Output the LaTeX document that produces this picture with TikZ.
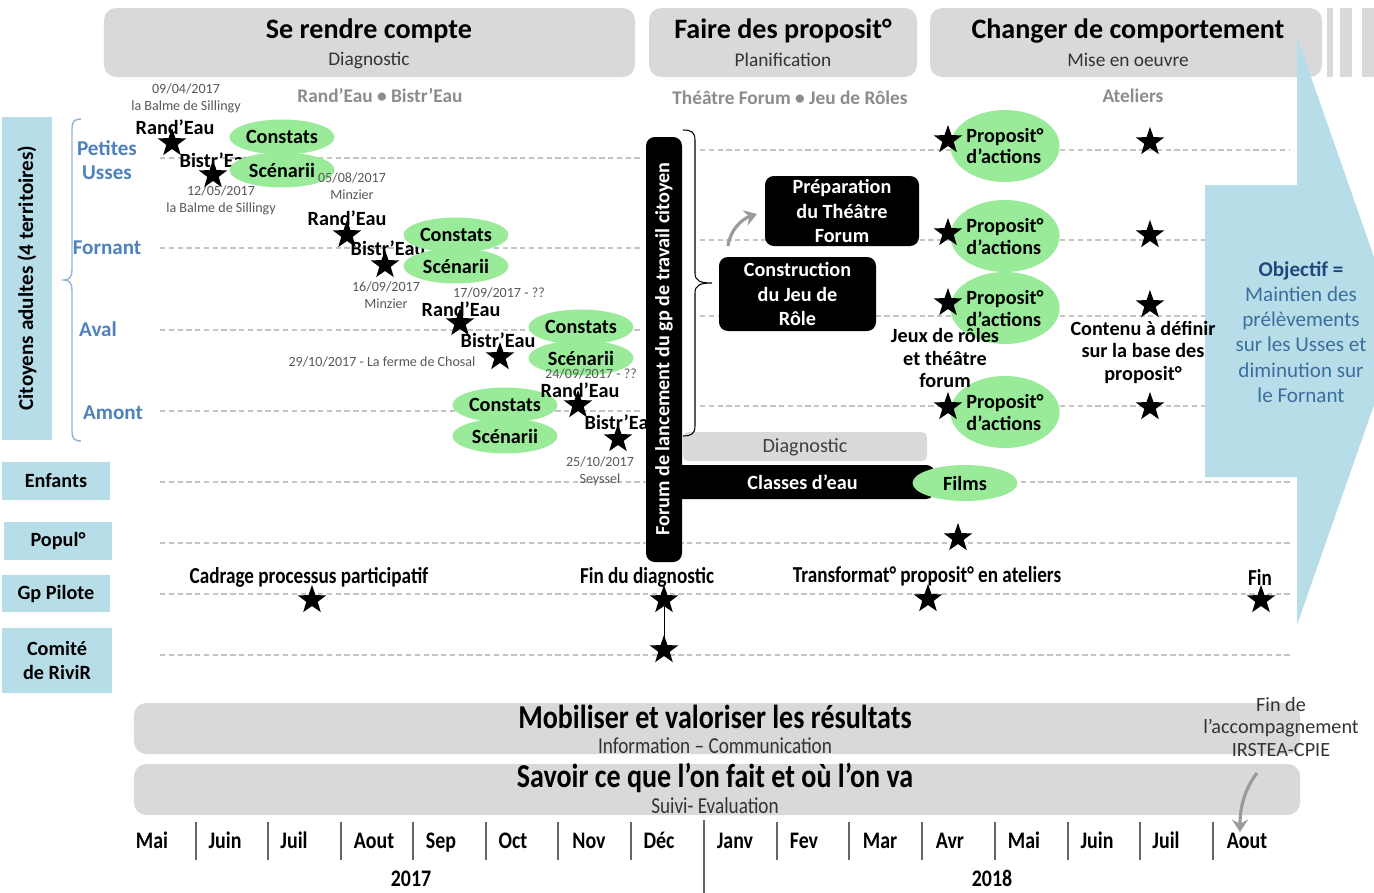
\documentclass[tikz,border=0pt]{standalone}
\usepackage{fontspec}
\setmainfont{Carlito}
\newfontfamily\condf[FakeStretch=0.84]{Carlito}
\usetikzlibrary{shapes.geometric,arrows.meta}
\definecolor{hdrgrey}{HTML}{D9D9D9}
\definecolor{lblue}{HTML}{B7DEE8}
\definecolor{lgreen}{HTML}{99EB99}
\definecolor{tblue}{HTML}{4F81BD}
\definecolor{sgrey}{HTML}{8C8C8C}
\definecolor{dgrey}{HTML}{595959}
\definecolor{rowgrey}{HTML}{C4C4C4}
\definecolor{objblue}{HTML}{1F497D}
\definecolor{objtxt}{HTML}{3B6E9E}
\definecolor{arrgrey}{HTML}{9A9A9A}
\definecolor{bracec}{HTML}{95B3D7}
\newcommand\ft[2]{\fontsize{#1pt}{#2pt}\selectfont}
\newcommand\mkbox[7]{%
  \pgfmathsetmacro\mbcx{(#3+#5)/2}%
  \pgfmathsetmacro\mbcy{(#4+#6)/2}%
  \pgfmathsetmacro\mbw{(#5-#3)*0.02}%
  \pgfmathsetmacro\mbh{(#6-#4)*0.02}%
  \node[#2, minimum width=\mbw cm, minimum height=\mbh cm] (#1) at (\mbcx,\mbcy) {#7};}
\begin{document}
\begin{tikzpicture}[x=0.02cm,y=-0.02cm,
  hdr/.style={fill=hdrgrey, rounded corners=7pt, inner sep=0},
  lbl/.style={fill=lblue, inner sep=0, font=\bfseries\ft{11.5}{14}, align=center},
  stari/.style={star, star points=5, star point ratio=2.5, fill=black, minimum size=0.6cm, inner sep=0},
  ell/.style={ellipse, fill=lgreen, minimum width=2.1cm, minimum height=0.7cm, inner sep=0, font=\bfseries\ft{11.5}{13}},
  pell/.style={ellipse, fill=lgreen, minimum width=2.12cm, minimum height=1.44cm, inner sep=0, font=\bfseries\ft{11.5}{12.5}, align=left},
  date/.style={font=\ft{8}{9.6}, text=dgrey, inner sep=0, align=center},
  who/.style={font=\bfseries\ft{11.5}{13}, inner sep=0},
  blk/.style={fill=black, text=white, rounded corners=5pt, inner sep=0, font=\bfseries\ft{11.5}{14}, align=center},
  row/.style={rowgrey, line width=0.6pt, dash pattern=on 3pt off 2pt},
  ttl/.style={font=\bfseries\ft{16}{18}, inner sep=0},
  sub/.style={font=\ft{11}{13}, text=black!80, inner sep=0},
  sect/.style={font=\bfseries\ft{11}{13}, text=sgrey, inner sep=0},
  terr/.style={font=\bfseries\ft{12}{14}, text=tblue, inner sep=0, align=center},
  mon/.style={font=\condf\bfseries\ft{13.5}{15}, inner sep=0, anchor=base},
  msep/.style={draw=black!60, line width=0.6pt},
  btxt/.style={font=\bfseries\ft{11.5}{12.8}, inner sep=0, align=center},
  gtxt/.style={font=\condf\bfseries\ft{13}{15}, inner sep=0},
  garrow/.style={draw=arrgrey, line width=1.8pt, -{Stealth[length=7pt,width=9pt]}},
]
\useasboundingbox (0,0) rectangle (1374,893);
\fill[white] (0,0) rectangle (1374,893);

% row lines
\foreach \y in {158,248,330,411} \draw[row] (160,\y) -- (640,\y);
\foreach \y in {150,240,316,406} \draw[row] (700,\y) -- (1290,\y);
\foreach \y in {482,543,594,655} \draw[row] (160,\y) -- (1290,\y);

% headers
\mkbox{h1}{hdr}{104}{8}{635}{77}{}
\node[ttl] (h1t) at (369,31) {Se rendre compte};
\node[sub] (h1s) at (369,60) {Diagnostic};
\mkbox{h2}{hdr}{649}{8}{917}{77}{}
\node[ttl] (h2t) at (783,31) {Faire des proposit°};
\node[sub] (h2s) at (783,60) {Planification};
\mkbox{h3}{hdr}{930}{8}{1322}{77}{}
\node[ttl] (h3t) at (1128,31) {Changer de comportement};
\node[sub] (h3s) at (1128,60) {Mise en oeuvre};
\mkbox{st1}{fill=hdrgrey,inner sep=0}{1327}{8}{1333}{77}{}
\mkbox{st2}{fill=hdrgrey,inner sep=0}{1340}{8}{1352}{77}{}
\mkbox{st3}{fill=hdrgrey,inner sep=0}{1362}{8}{1374}{77}{}

% objective arrow (behind the texts)
\fill[lblue] (1205,185) -- (1297,185) -- (1297,37) -- (1374,257) -- (1374,405) -- (1297,625) -- (1297,477) -- (1205,477) -- cycle;
\node[align=center, font=\ft{12}{14.4}, text=objtxt, inner sep=0] (obj) at (1301,332)
  {{\bfseries\color{objblue}Objectif =}\\Maintien des\\prélèvements\\sur les Usses et\\diminution sur\\le Fornant};

\node[sect] (s1) at (380,96) {Rand’Eau • Bistr’Eau};
\node[sect] (s2) at (790,98) {Théâtre Forum • Jeu de Rôles};
\node[sect] (s3) at (1133,96) {Ateliers};

% left labels
\mkbox{cit}{lbl}{2}{117}{52}{440}{}
\node[rotate=90, font=\bfseries\ft{12}{14}, inner sep=0] (citt) at (27,278) {Citoyens adultes (4 territoires)};
\draw[bracec, line width=0.8pt] (81,119) .. controls (74,119) and (72,122) .. (72,129) -- (72,270)
  .. controls (72,277) and (69,280) .. (64,280) .. controls (69,280) and (72,283) .. (72,290)
  -- (72,431) .. controls (72,438) and (74,441) .. (81,441);
\node[terr] (pu) at (107,160) {Petites\\Usses};
\node[terr] (fo) at (107,248) {Fornant};
\node[terr] (av) at (98,329) {Aval};
\node[terr] (am) at (113,413) {Amont};
\mkbox{enf}{lbl}{2}{462}{110}{500}{Enfants}
\mkbox{pop}{lbl}{4}{522}{112}{560}{Popul°}
\mkbox{gpp}{lbl}{2}{575}{110}{612}{Gp Pilote}
\mkbox{com}{lbl}{2}{628}{112}{693}{Comité\\de RiviR}

% Bistr'Eau labels (behind ellipses)
\node[who] (b1) at (217,160) {Bistr’Eau};
\node[who] (b2) at (388,248) {Bistr’Eau};
\node[who] (b3) at (498,340) {Bistr’Eau};
\node[who] (b4) at (622,422) {Bistr’Eau};

% ellipses
\node[ell] (c1) at (282,137) {Constats};
\node[ell] (e1) at (282,170) {Scénarii};
\node[ell] (c2) at (456,235) {Constats};
\node[ell] (e2) at (456,266) {Scénarii};
\node[ell] (c3) at (581,327) {Constats};
\node[ell] (e3) at (581,358) {Scénarii};
\node[ell] (c4) at (505,405) {Constats};
\node[ell] (e4) at (505,436) {Scénarii};

% dates and Rand'Eau
\node[date] (d1) at (186,98) {09/04/2017\\la Balme de Sillingy};
\node[who] (r1) at (175,127) {Rand’Eau};
\node[date] (d2) at (221,200) {12/05/2017\\la Balme de Sillingy};
\node[date] (d3) at (352,186) {05/08/2017\\Minzier};
\node[who] (r2) at (347,218) {Rand’Eau};
\node[date] (d4) at (386,295) {16/09/2017\\Minzier};
\node[date] (d5) at (499,293) {17/09/2017 - ??};
\node[who] (r3) at (461,309) {Rand’Eau};
\node[date] (d6) at (382,362) {29/10/2017 - La ferme de Chosal};
\node[date] (d7) at (591,374) {24/09/2017 - ??};
\node[who] (r4) at (580,390) {Rand’Eau};
\node[date] (d8) at (600,471) {25/10/2017\\Seyssel};

% stars diagnostic
\node[stari] (sr1) at (172,143) {};
\node[stari] (sb1) at (213,175) {};
\node[stari] (sr2) at (347,235) {};
\node[stari] (sb2) at (385,265) {};
\node[stari] (sr3) at (460,323) {};
\node[stari] (sb3) at (500,357) {};
\node[stari] (sr4) at (578,405) {};
\node[stari] (sb4) at (618,439) {};

% planning
\mkbox{dg}{fill=hdrgrey, rounded corners=3pt, inner sep=0}{683}{432}{927}{461}{}
\node[font=\ft{11.5}{13}, text=black!75, inner sep=0] (dgt) at (805,447) {Diagnostic};
\mkbox{cl}{blk}{670}{465}{935}{499}{Classes d’eau}
\node[ell, minimum height=0.72cm] (films) at (965,483) {Films};
\mkbox{forum}{blk}{646}{137}{682}{562}{}
\node[rotate=90, text=white, font=\bfseries\ft{11.5}{13}, inner sep=0] (forumt) at (664,349) {Forum de lancement du gp de travail citoyen};
\draw[black, line width=0.6pt] (683,130) .. controls (691,130) and (695,132) .. (695,140) -- (695,273)
  .. controls (695,281) and (700,283) .. (712,283) .. controls (700,283) and (695,285) .. (695,293)
  -- (695,426) .. controls (695,434) and (691,436) .. (683,436);
\mkbox{prep}{blk}{765}{176}{919}{246}{Préparation\\du Théâtre\\Forum}
\mkbox{cons}{blk}{719}{257}{876}{331}{Construction\\du Jeu de\\Rôle}
\coordinate (ga1) at (728,246);
\coordinate (ga2) at (757,214);
\draw[garrow] (ga1) .. controls (730,230) and (742,219) .. (ga2);

% propositions
\node[pell] (p1) at (1005,146) {Proposit°\\d’actions};
\node[pell] (p2) at (1005,236) {Proposit°\\d’actions};
\node[pell] (p3) at (1005,308) {Proposit°\\d’actions};
\node[pell] (p4) at (1005,412) {Proposit°\\d’actions};
\node[stari] (pl1) at (948,140) {};
\node[stari] (pl2) at (948,233) {};
\node[stari] (pl3) at (948,303) {};
\node[stari] (pl4) at (948,407) {};
\node[stari] (pr1) at (1150,142) {};
\node[stari] (pr2) at (1150,235) {};
\node[stari] (pr3) at (1150,305) {};
\node[stari] (pr4) at (1150,407) {};
\node[btxt] (jeux) at (945,358) {Jeux de rôles\\et théâtre\\forum};
\node[btxt] (cont) at (1143,352) {Contenu à définir\\sur la base des\\proposit°};

% lower rows
\node[stari] (pp1) at (958,538) {};
\node[gtxt] (cad) at (309,577) {Cadrage processus participatif};
\node[gtxt] (fdd) at (647,577) {Fin du diagnostic};
\node[gtxt] (tra) at (927,576) {Transformat° proposit° en ateliers};
\node[gtxt] (fin) at (1260,577) {Fin};
\node[stari] (gp1) at (312,600) {};
\node[stari] (gp2) at (664,600) {};
\node[stari] (gp3) at (928,599) {};
\node[stari] (gp4) at (1261,600) {};
\node[stari] (cm1) at (664,650) {};
\draw[black, line width=0.5pt] (gp2.center) -- (cm1.center);

% bottom bars
\mkbox{mob}{hdr}{134}{703}{1300}{754}{}
\node[font=\condf\bfseries\ft{19}{21}, inner sep=0] (mobt) at (715,717) {Mobiliser et valoriser les résultats};
\node[font=\condf\ft{13}{15}, text=black!80, inner sep=0] (mobs) at (715,746) {Information – Communication};
\mkbox{sav}{hdr}{134}{764}{1300}{815}{}
\node[font=\condf\bfseries\ft{19}{21}, inner sep=0] (savt) at (715,778) {Savoir ce que l’on fait et où l’on va};
\node[font=\condf\ft{13}{15}, text=black!80, inner sep=0] (savs) at (715,806) {Suivi- Evaluation};
\node[font=\ft{11.5}{12.8}, text=black!80, align=center, inner sep=0] (finacc) at (1281,727) {Fin de\\l’accompagnement\\IRSTEA-CPIE};
\coordinate (fa1) at (1257,773);
\coordinate (fa2) at (1240,832);
\draw[garrow] (fa1) .. controls (1244,790) and (1240,808) .. (fa2);

% months
\foreach \x/\m in {152/Mai,225/Juin,294/Juil,374/Aout,441/Sep,513/Oct,589/Nov,659/Déc,735/Janv,804/Fev,880/Mar,950/Avr,1024/Mai,1097/Juin,1166/Juil,1247/Aout}
  \node[mon] (m\x) at (\x,848) {\m};
\foreach \x in {196,268,341,413,486,558,631,777,849,922,995,1068,1140,1213}
  \draw[msep] (\x,822) -- (\x,860);
\draw[msep] (704,820) -- (704,893);
\node[mon] (y17) at (411,886) {2017};
\node[mon] (y18) at (992,886) {2018};
\end{tikzpicture}
\end{document}
